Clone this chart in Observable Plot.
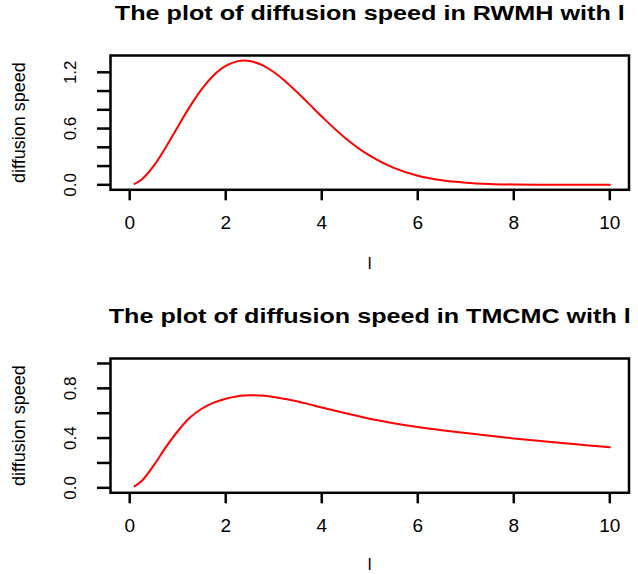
<!DOCTYPE html>
<html><head><meta charset="utf-8">
<script src="https://cdn.jsdelivr.net/npm/d3@7"></script>
<script src="https://cdn.jsdelivr.net/npm/@observablehq/plot@0.6"></script>
<style>
html,body{margin:0;padding:0;background:#fff;overflow:hidden}
#wrap{position:relative;width:638px;height:574px}
#p1,#p2{position:absolute;left:0}
#p1{top:0}
#p2{top:303px}
</style></head><body><div id="wrap"><div id="p1"></div><div id="p2"></div></div>
<script>
// scaling parameter l
const lValues = [0.1, 0.25, 0.5, 0.75, 1, 1.25, 1.5, 1.75, 2, 2.25, 2.4, 2.5, 2.75, 3, 3.25, 3.5, 3.75, 4, 4.5, 5, 5.5, 6, 6.5, 7, 7.5, 8, 8.5, 9, 9.5, 10];
// diffusion speed, RWMH
const rwmhSpeed = [0.010, 0.056, 0.201, 0.398, 0.617, 0.831, 1.020, 1.169, 1.269, 1.319, 1.326, 1.320, 1.279, 1.203, 1.100, 0.982, 0.855, 0.728, 0.495, 0.311, 0.180, 0.097, 0.049, 0.023, 0.010, 0.004, 0.0015, 0.0005, 0.0002, 0.0001];
// diffusion speed, TMCMC
const tmcmcSpeed = [0.012, 0.055, 0.180, 0.325, 0.455, 0.563, 0.636, 0.685, 0.717, 0.737, 0.743, 0.745, 0.742, 0.731, 0.714, 0.695, 0.671, 0.646, 0.600, 0.556, 0.520, 0.489, 0.463, 0.440, 0.418, 0.397, 0.378, 0.360, 0.343, 0.326];
const xTicks = [0, 2, 4, 6, 8, 10];
const rwmhYTicks = [0, 0.2, 0.4, 0.6, 0.8, 1.0, 1.2];
const rwmhYLabels = [0, 0.6, 1.2];
const tmcmcYTicks = [0, 0.2, 0.4, 0.6, 0.8, 1.0];
const tmcmcYLabels = [0, 0.4, 0.8];
const titles = ["The plot of diffusion speed in RWMH with l", "The plot of diffusion speed in TMCMC with l"];
const yLabel = "diffusion speed";
const xLabel = "l";

function panel({title, values, yDomain, yTicks, yLabels, height, marginBottom, titleLength, xLabelDy}) {
  const data = lValues.map((l, i) => ({l, v: values[i]}));
  const p = Plot.plot({
    width: 638, height, marginLeft: 110, marginRight: 9.5, marginTop: 55, marginBottom,
    style: {fontFamily: "'Liberation Sans', Arial, sans-serif", color: "black", background: "white", overflow: "visible"},
    x: {domain: [-0.4, 10.4]},
    y: {domain: yDomain},
    marks: [
      Plot.line(data, {x: "l", y: "v", stroke: "red", strokeWidth: 2, curve: "catmull-rom"}),
      Plot.frame({stroke: "black", strokeWidth: 2.5}),
      Plot.axisX({ticks: xTicks, tickSize: 11, tickPadding: 15, fontSize: 19, strokeWidth: 2.5, tickFormat: d => String(d), label: null}),
      Plot.axisY({ticks: yTicks, tickSize: 13, strokeWidth: 2.5, tickFormat: () => "", label: null}),
      Plot.text(yLabels, {y: d => d, text: d => d.toFixed(1), frameAnchor: "left", textAnchor: "middle", lineAnchor: "middle", dx: -39.5, rotate: -90, fontSize: 17}),
      Plot.text([yLabel], {frameAnchor: "left", textAnchor: "middle", lineAnchor: "middle", dx: -91, rotate: -90, fontSize: 18}),
      Plot.text([xLabel], {frameAnchor: "bottom", lineAnchor: "middle", dy: xLabelDy, fontSize: 17}),
      Plot.text([title], {frameAnchor: "top", lineAnchor: "middle", dy: -42, fontSize: 20, fontWeight: "bold"})
    ]
  });
  p.querySelectorAll("text").forEach(t => {
    if (t.textContent === title) {
      t.setAttribute("textLength", titleLength);
      t.setAttribute("lengthAdjust", "spacingAndGlyphs");
    }
  });
  return p;
}

document.getElementById("p1").append(panel({
  title: titles[0], values: rwmhSpeed, yDomain: [-0.053, 1.379], yTicks: rwmhYTicks, yLabels: rwmhYLabels,
  height: 303, marginBottom: 113.7, titleLength: 510, xLabelDy: 73.7
}));
document.getElementById("p2").append(panel({
  title: titles[1], values: tmcmcSpeed, yDomain: [-0.04, 1.04], yTicks: tmcmcYTicks, yLabels: tmcmcYLabels,
  height: 271, marginBottom: 81.7, titleLength: 522, xLabelDy: 71.5
}));
</script></body></html>
